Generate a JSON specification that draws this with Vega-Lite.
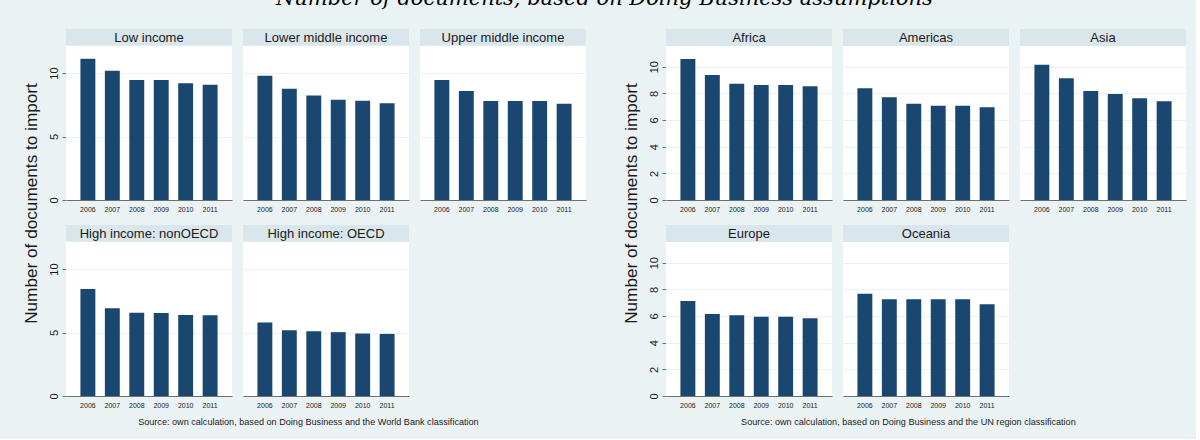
{
  "$schema": "https://vega.github.io/schema/vega-lite/v6.json",
  "background": "#eaf2f3",
  "padding": {"left": 22, "top": -12, "right": 10, "bottom": 11},
  "title": {
    "text": "Number of documents, based on Doing Business assumptions",
    "font": "DejaVu Serif",
    "fontStyle": "italic",
    "fontWeight": "normal",
    "fontSize": 21,
    "baseline": "bottom",
    "offset": -1,
    "color": "black",
    "anchor": "middle"
  },
  "datasets": {
    "income": [
      {"grp": "Low income", "year": 2006, "value": 11.13},
      {"grp": "Low income", "year": 2007, "value": 10.18},
      {"grp": "Low income", "year": 2008, "value": 9.45},
      {"grp": "Low income", "year": 2009, "value": 9.45},
      {"grp": "Low income", "year": 2010, "value": 9.19},
      {"grp": "Low income", "year": 2011, "value": 9.08},
      {"grp": "Lower middle income", "year": 2006, "value": 9.79},
      {"grp": "Lower middle income", "year": 2007, "value": 8.76},
      {"grp": "Lower middle income", "year": 2008, "value": 8.24},
      {"grp": "Lower middle income", "year": 2009, "value": 7.9},
      {"grp": "Lower middle income", "year": 2010, "value": 7.82},
      {"grp": "Lower middle income", "year": 2011, "value": 7.63},
      {"grp": "Upper middle income", "year": 2006, "value": 9.45},
      {"grp": "Upper middle income", "year": 2007, "value": 8.58},
      {"grp": "Upper middle income", "year": 2008, "value": 7.79},
      {"grp": "Upper middle income", "year": 2009, "value": 7.79},
      {"grp": "Upper middle income", "year": 2010, "value": 7.79},
      {"grp": "Upper middle income", "year": 2011, "value": 7.58},
      {"grp": "High income: nonOECD", "year": 2006, "value": 8.42},
      {"grp": "High income: nonOECD", "year": 2007, "value": 6.92},
      {"grp": "High income: nonOECD", "year": 2008, "value": 6.55},
      {"grp": "High income: nonOECD", "year": 2009, "value": 6.53},
      {"grp": "High income: nonOECD", "year": 2010, "value": 6.39},
      {"grp": "High income: nonOECD", "year": 2011, "value": 6.37},
      {"grp": "High income: OECD", "year": 2006, "value": 5.79},
      {"grp": "High income: OECD", "year": 2007, "value": 5.18},
      {"grp": "High income: OECD", "year": 2008, "value": 5.1},
      {"grp": "High income: OECD", "year": 2009, "value": 5.03},
      {"grp": "High income: OECD", "year": 2010, "value": 4.92},
      {"grp": "High income: OECD", "year": 2011, "value": 4.89}
    ],
    "region": [
      {"grp": "Africa", "year": 2006, "value": 10.58},
      {"grp": "Africa", "year": 2007, "value": 9.38},
      {"grp": "Africa", "year": 2008, "value": 8.73},
      {"grp": "Africa", "year": 2009, "value": 8.63},
      {"grp": "Africa", "year": 2010, "value": 8.63},
      {"grp": "Africa", "year": 2011, "value": 8.53},
      {"grp": "Americas", "year": 2006, "value": 8.38},
      {"grp": "Americas", "year": 2007, "value": 7.7},
      {"grp": "Americas", "year": 2008, "value": 7.23},
      {"grp": "Americas", "year": 2009, "value": 7.08},
      {"grp": "Americas", "year": 2010, "value": 7.08},
      {"grp": "Americas", "year": 2011, "value": 6.95},
      {"grp": "Asia", "year": 2006, "value": 10.15},
      {"grp": "Asia", "year": 2007, "value": 9.13},
      {"grp": "Asia", "year": 2008, "value": 8.18},
      {"grp": "Asia", "year": 2009, "value": 7.95},
      {"grp": "Asia", "year": 2010, "value": 7.63},
      {"grp": "Asia", "year": 2011, "value": 7.4},
      {"grp": "Europe", "year": 2006, "value": 7.13},
      {"grp": "Europe", "year": 2007, "value": 6.15},
      {"grp": "Europe", "year": 2008, "value": 6.05},
      {"grp": "Europe", "year": 2009, "value": 5.95},
      {"grp": "Europe", "year": 2010, "value": 5.95},
      {"grp": "Europe", "year": 2011, "value": 5.83},
      {"grp": "Oceania", "year": 2006, "value": 7.68},
      {"grp": "Oceania", "year": 2007, "value": 7.25},
      {"grp": "Oceania", "year": 2008, "value": 7.25},
      {"grp": "Oceania", "year": 2009, "value": 7.25},
      {"grp": "Oceania", "year": 2010, "value": 7.25},
      {"grp": "Oceania", "year": 2011, "value": 6.88}
    ]
  },
  "spacing": 36,
  "hconcat": [
    {
      "title": {"text": "Source: own calculation, based on Doing Business and the World Bank classification", "orient": "bottom", "anchor": "middle", "fontSize": 9.1, "fontWeight": "normal", "color": "#1a1a1a", "offset": 10, "dx": 4},
      "vconcat": [
        {
          "title": {"text": "Number of documents to import", "orient": "left", "anchor": "middle", "fontSize": 17.2, "fontWeight": "normal", "color": "#1a1a1a", "offset": 8, "dx": 15},
          "data": {"name": "income"},
          "facet": {"field": "grp", "type": "nominal", "sort": ["Low income", "Lower middle income", "Upper middle income", "High income: nonOECD", "High income: OECD"], "header": {"title": null, "labels": false, "labelExpr": "''", "labelFontSize": 0, "labelPadding": 0}},
          "columns": 3,
          "spacing": {"column": 11, "row": 13},
          "resolve": {"axis": {"x": "independent"}},
          "spec": {
            "width": 166,
            "height": 171,
            "layer": [
              {
                "mark": {"type": "bar", "color": "#1a476f"},
                "encoding": {
                  "x": {"field": "year", "type": "ordinal", "scale": {"paddingInner": 0.39, "paddingOuter": 0.59},
                        "axis": {"title": null, "labelAngle": 0, "labelFontSize": 7, "ticks": false, "labelPadding": 5, "domainColor": "#6e6e6e", "labelColor": "#1a1a1a", "grid": false}},
                  "y": {"field": "value", "type": "quantitative", "scale": {"domain": [0, 13.47], "nice": false},
                        "axis": {"title": null, "values": [0, 5, 10], "labelAngle": -90, "labelAlign": "center", "labelBaseline": "bottom", "labelOverlap": false, "labelFontSize": 11, "labelPadding": 3, "tickSize": 4, "tickColor": "#6e6e6e", "domainColor": "#6e6e6e", "labelColor": "#1a1a1a", "grid": true, "gridColor": "#eaf2f3", "gridWidth": 1.2}}
                }
              },
              {
                "transform": [{"filter": "datum.year == 2006"}],
                "mark": {"type": "rect", "color": "#d9e6eb"},
                "encoding": {
                  "x": {"value": 0}, "x2": {"value": "width"},
                  "y": {"datum": 12.16, "type": "quantitative",
                        "axis": {"title": null, "values": [0, 5, 10], "labelAngle": -90, "labelAlign": "center", "labelBaseline": "bottom", "labelOverlap": false, "labelFontSize": 11, "labelPadding": 3, "tickSize": 4, "tickColor": "#6e6e6e", "domainColor": "#6e6e6e", "labelColor": "#1a1a1a", "grid": true, "gridColor": "#eaf2f3", "gridWidth": 1.2}},
                  "y2": {"datum": 13.47}
                }
              },
              {
                "transform": [{"filter": "datum.year == 2006"}],
                "mark": {"type": "text", "fontSize": 13, "color": "#1a1a1a", "baseline": "middle", "align": "center"},
                "encoding": {
                  "y": {"datum": 12.8, "type": "quantitative",
                        "axis": {"title": null, "values": [0, 5, 10], "labelAngle": -90, "labelAlign": "center", "labelBaseline": "bottom", "labelOverlap": false, "labelFontSize": 11, "labelPadding": 3, "tickSize": 4, "tickColor": "#6e6e6e", "domainColor": "#6e6e6e", "labelColor": "#1a1a1a", "grid": true, "gridColor": "#eaf2f3", "gridWidth": 1.2}},
                  "text": {"field": "grp"}
                }
              }
            ]
          }
        }
      ]
    },
    {
      "title": {"text": "Source: own calculation, based on Doing Business and the UN region classification", "orient": "bottom", "anchor": "middle", "fontSize": 9.1, "fontWeight": "normal", "color": "#1a1a1a", "offset": 10, "dx": 4},
      "vconcat": [
        {
          "title": {"text": "Number of documents to import", "orient": "left", "anchor": "middle", "fontSize": 17.2, "fontWeight": "normal", "color": "#1a1a1a", "offset": 8, "dx": 15},
          "data": {"name": "region"},
          "facet": {"field": "grp", "type": "nominal", "sort": ["Africa", "Americas", "Asia", "Europe", "Oceania"], "header": {"title": null, "labels": false, "labelExpr": "''", "labelFontSize": 0, "labelPadding": 0}},
          "columns": 3,
          "spacing": {"column": 11, "row": 13},
          "resolve": {"axis": {"x": "independent"}},
          "spec": {
            "width": 166,
            "height": 171,
            "layer": [
              {
                "mark": {"type": "bar", "color": "#1a476f"},
                "encoding": {
                  "x": {"field": "year", "type": "ordinal", "scale": {"paddingInner": 0.39, "paddingOuter": 0.59},
                        "axis": {"title": null, "labelAngle": 0, "labelFontSize": 7, "ticks": false, "labelPadding": 5, "domainColor": "#6e6e6e", "labelColor": "#1a1a1a", "grid": false}},
                  "y": {"field": "value", "type": "quantitative", "scale": {"domain": [0, 12.83], "nice": false},
                        "axis": {"title": null, "values": [0, 2, 4, 6, 8, 10], "labelAngle": -90, "labelAlign": "center", "labelBaseline": "bottom", "labelOverlap": false, "labelFontSize": 11, "labelPadding": 3, "tickSize": 4, "tickColor": "#6e6e6e", "domainColor": "#6e6e6e", "labelColor": "#1a1a1a", "grid": true, "gridColor": "#eaf2f3", "gridWidth": 1.2}}
                }
              },
              {
                "transform": [{"filter": "datum.year == 2006"}],
                "mark": {"type": "rect", "color": "#d9e6eb"},
                "encoding": {
                  "x": {"value": 0}, "x2": {"value": "width"},
                  "y": {"datum": 11.55, "type": "quantitative",
                        "axis": {"title": null, "values": [0, 2, 4, 6, 8, 10], "labelAngle": -90, "labelAlign": "center", "labelBaseline": "bottom", "labelOverlap": false, "labelFontSize": 11, "labelPadding": 3, "tickSize": 4, "tickColor": "#6e6e6e", "domainColor": "#6e6e6e", "labelColor": "#1a1a1a", "grid": true, "gridColor": "#eaf2f3", "gridWidth": 1.2}},
                  "y2": {"datum": 12.83}
                }
              },
              {
                "transform": [{"filter": "datum.year == 2006"}],
                "mark": {"type": "text", "fontSize": 13, "color": "#1a1a1a", "baseline": "middle", "align": "center"},
                "encoding": {
                  "y": {"datum": 12.19, "type": "quantitative",
                        "axis": {"title": null, "values": [0, 2, 4, 6, 8, 10], "labelAngle": -90, "labelAlign": "center", "labelBaseline": "bottom", "labelOverlap": false, "labelFontSize": 11, "labelPadding": 3, "tickSize": 4, "tickColor": "#6e6e6e", "domainColor": "#6e6e6e", "labelColor": "#1a1a1a", "grid": true, "gridColor": "#eaf2f3", "gridWidth": 1.2}},
                  "text": {"field": "grp"}
                }
              }
            ]
          }
        }
      ]
    }
  ],
  "config": {
    "font": "Liberation Sans",
    "view": {"stroke": null, "fill": "white"},
    "axis": {"domainWidth": 1, "tickWidth": 1, "labelOverlap": false},
    "axisY": {"labelOverlap": false},
    "header": {"labels": false, "title": null, "labelFontSize": 0, "labelPadding": 0}
  }
}
